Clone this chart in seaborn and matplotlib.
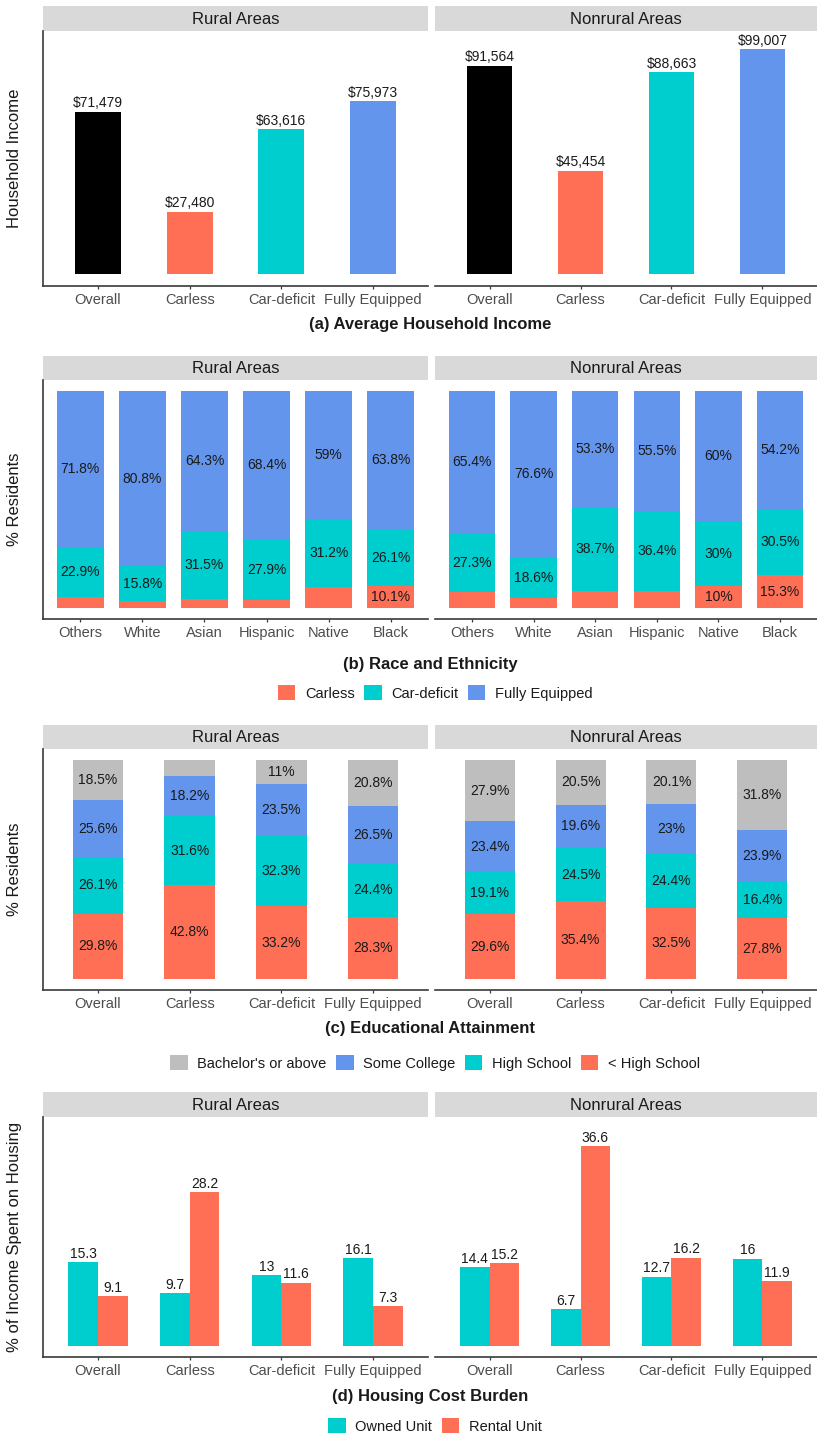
import numpy as np
import pandas as pd
import matplotlib
matplotlib.use("Agg")
import matplotlib.pyplot as plt
from matplotlib.patches import Patch
import seaborn as sns

# ---------------- data ----------------
areas = ["Rural Areas", "Nonrural Areas"]
groups = ["Overall", "Carless", "Car-deficit", "Fully Equipped"]

# (a) average household income (USD)
income_rural = [71479, 27480, 63616, 75973]
income_nonrural = [91564, 45454, 88663, 99007]

# (b) race and ethnicity, share of residents (%)
races = ["Others", "White", "Asian", "Hispanic", "Native", "Black"]
car_status = ["Carless", "Car-deficit", "Fully Equipped"]
race_carless_rural = [5.3, 3.4, 4.2, 3.7, 9.8, 10.1]
race_cardeficit_rural = [22.9, 15.8, 31.5, 27.9, 31.2, 26.1]
race_full_rural = [71.8, 80.8, 64.3, 68.4, 59.0, 63.8]
race_carless_nonrural = [7.3, 4.8, 8.0, 8.1, 10.0, 15.3]
race_cardeficit_nonrural = [27.3, 18.6, 38.7, 36.4, 30.0, 30.5]
race_full_nonrural = [65.4, 76.6, 53.3, 55.5, 60.0, 54.2]

# (c) educational attainment, share of residents (%)
edu_levels = ["Bachelor's or above", "Some College", "High School", "< High School"]
edu_lths_rural = [29.8, 42.8, 33.2, 28.3]
edu_hs_rural = [26.1, 31.6, 32.3, 24.4]
edu_some_rural = [25.6, 18.2, 23.5, 26.5]
edu_ba_rural = [18.5, 7.4, 11.0, 20.8]
edu_lths_nonrural = [29.6, 35.4, 32.5, 27.8]
edu_hs_nonrural = [19.1, 24.5, 24.4, 16.4]
edu_some_nonrural = [23.4, 19.6, 23.0, 23.9]
edu_ba_nonrural = [27.9, 20.5, 20.1, 31.8]

# (d) housing cost burden, % of income spent on housing
units = ["Owned Unit", "Rental Unit"]
owned_rural = [15.3, 9.7, 13.0, 16.1]
rental_rural = [9.1, 28.2, 11.6, 7.3]
owned_nonrural = [14.4, 6.7, 12.7, 16.0]
rental_nonrural = [15.2, 36.6, 16.2, 11.9]

# ---------------- style ----------------
BLACK = "#000000"
CORAL = "#FF6F56"
TEAL = "#00CDCD"
BLUE = "#6495ED"
GREY = "#BEBEBE"
STRIP = "#D9D9D9"
AXIS = "#3A3A3A"
TICKTXT = "#4D4D4D"
TXT = "#1A1A1A"

sns.set_style("white")
plt.rcParams["font.family"] = ["Liberation Sans", "DejaVu Sans"]

W, H = 817, 1440
fig = plt.figure(figsize=(W / 100, H / 100), dpi=100)


def box(x0, y0, x1, y1):
    return [x0 / W, 1 - y1 / H, (x1 - x0) / W, (y1 - y0) / H]


COLS = [(43, 428), (435, 817)]


def make_row(strip_top, plot_top, plot_bottom):
    axes = []
    for i, (x0, x1) in enumerate(COLS):
        s = fig.add_axes(box(x0, strip_top, x1, plot_top))
        s.set_facecolor(STRIP)
        s.set_xticks([]); s.set_yticks([])
        for sp in s.spines.values():
            sp.set_visible(False)
        s.text(0.5, 0.48, areas[i], ha="center", va="center", fontsize=12, color=TXT,
               transform=s.transAxes)
        ax = fig.add_axes(box(x0, plot_top, x1, plot_bottom))
        axes.append(ax)
    return axes


def style_axes(ax, ncat, ylim, left):
    ax.set_xlim(-0.6, ncat - 0.4)
    ax.set_ylim(*ylim)
    ax.set_yticks([])
    ax.set_xlabel(""); ax.set_ylabel("")
    ax.set_facecolor("white")
    for k in ["top", "right"]:
        ax.spines[k].set_visible(False)
    ax.spines["left"].set_visible(left)
    for k in ["bottom", "left"]:
        ax.spines[k].set_color(AXIS)
        ax.spines[k].set_linewidth(1.2)
    ax.tick_params(axis="x", length=2.5, width=0.9, color=AXIS, labelcolor=TICKTXT,
                   labelsize=10.5, pad=2.5, bottom=True)


def stacked(ax, cats, layers, colors, width):
    cum = np.cumsum(np.array(layers, dtype=float), axis=0)
    for i in range(len(layers) - 1, -1, -1):
        df = pd.DataFrame({"cat": cats, "val": cum[i]})
        sns.barplot(data=df, x="cat", y="val", order=cats, color=colors[i], width=width,
                    saturation=1, edgecolor="none", errorbar=None, ax=ax)
    for i, layer in enumerate(layers):
        base = cum[i] - np.array(layer)
        for j, v in enumerate(layer):
            if v >= 10:
                ax.text(j, base[j] + v / 2, f"{v:g}%", ha="center", va="center",
                        fontsize=10, color=TXT)


def ylab(text, top, bottom):
    fig.text(15 / W, 1 - (top + bottom) / 2 / H, text, rotation=90, ha="center",
             va="center", fontsize=12, color=TXT)


def title(text, y):
    fig.text(430 / W, 1 - y / H, text, ha="center", va="center", fontsize=12,
             fontweight="bold", color=TXT)


def legend(labels, colors, y):
    handles = [Patch(facecolor=c, edgecolor="none") for c in colors]
    fig.legend(handles, labels, loc="center", bbox_to_anchor=(435 / W, 1 - y / H),
               ncol=len(labels), frameon=False, fontsize=10.5, handlelength=1.2,
               handleheight=1.15, handletextpad=0.65, columnspacing=0.65,
               labelcolor=TXT)


# ---------------- (a) average household income ----------------
axes = make_row(6, 31, 286)
for i, (ax, vals) in enumerate(zip(axes, [income_rural, income_nonrural])):
    df = pd.DataFrame({"group": groups, "income": vals})
    sns.barplot(data=df, x="group", y="income", hue="group", order=groups,
                hue_order=groups, palette=[BLACK, CORAL, TEAL, BLUE], width=0.5,
                saturation=1, edgecolor="none", errorbar=None, legend=False, ax=ax)
    for cont in ax.containers:
        ax.bar_label(cont, labels=[f"${b.get_height():,.0f}" for b in cont],
                     padding=1, fontsize=10, color=TXT)
    style_axes(ax, 4, (-5280, 106900), left=(i == 0))
ylab("Household Income", 31, 286)
title("(a) Average Household Income", 325)

# ---------------- (b) race and ethnicity ----------------
axes = make_row(356, 380, 619)
race_sets = [
    [race_carless_rural, race_cardeficit_rural, race_full_rural],
    [race_carless_nonrural, race_cardeficit_nonrural, race_full_nonrural],
]
for i, (ax, layers) in enumerate(zip(axes, race_sets)):
    stacked(ax, races, layers, [CORAL, TEAL, BLUE], 0.75)
    style_axes(ax, len(races), (-5, 105), left=(i == 0))
ylab("% Residents", 380, 619)
title("(b) Race and Ethnicity", 665)
legend(car_status, [CORAL, TEAL, BLUE], 693)

# ---------------- (c) educational attainment ----------------
axes = make_row(725, 749, 990)
edu_sets = [
    [edu_lths_rural, edu_hs_rural, edu_some_rural, edu_ba_rural],
    [edu_lths_nonrural, edu_hs_nonrural, edu_some_nonrural, edu_ba_nonrural],
]
for i, (ax, layers) in enumerate(zip(axes, edu_sets)):
    stacked(ax, groups, layers, [CORAL, TEAL, BLUE, GREY], 0.55)
    style_axes(ax, 4, (-5, 105), left=(i == 0))
ylab("% Residents", 749, 990)
title("(c) Educational Attainment", 1029)
legend(edu_levels, [GREY, BLUE, TEAL, CORAL], 1063)

# ---------------- (d) housing cost burden ----------------
axes = make_row(1092, 1117, 1357)
housing_sets = [(owned_rural, rental_rural), (owned_nonrural, rental_nonrural)]
for i, (ax, (own, rent)) in enumerate(zip(axes, housing_sets)):
    df = pd.DataFrame({
        "group": groups * 2,
        "unit": [units[0]] * 4 + [units[1]] * 4,
        "share": list(own) + list(rent),
    })
    sns.barplot(data=df, x="group", y="share", hue="unit", order=groups,
                hue_order=units, palette=[TEAL, CORAL], width=0.65, saturation=1,
                edgecolor="none", errorbar=None, legend=False, ax=ax)
    for cont in ax.containers:
        ax.bar_label(cont, fmt="%g", padding=1, fontsize=10, color=TXT)
    style_axes(ax, 4, (-2.0, 41.9), left=(i == 0))
ylab("% of Income Spent on Housing", 1117, 1357)
title("(d) Housing Cost Burden", 1397)
legend(units, [TEAL, CORAL], 1426)

fig.savefig("out.png", dpi=100, facecolor="white")
